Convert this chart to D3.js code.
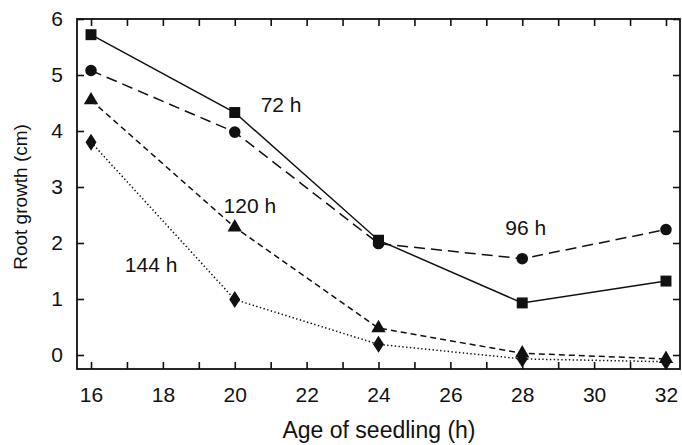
<!DOCTYPE html>
<html>
<head>
<meta charset="utf-8">
<script src="https://cdn.jsdelivr.net/npm/d3@7"></script>
<style>
  body { margin: 0; background: #fff; }
  text { font-family: "Liberation Sans", Arial, sans-serif; fill: #111; }
</style>
</head>
<body>
<div id="chart"></div>
<script>
// seedling age (h)
var ages = [16, 20, 24, 28, 32];

// root growth (cm) per treatment
var growth72 = [5.72, 4.33, 2.05, 0.93, 1.32];
var growth96 = [5.08, 3.98, 1.99, 1.72, 2.24];
var growth120 = [4.55, 2.28, 0.48, 0.03, -0.07];
var growth144 = [3.80, 0.99, 0.19, -0.07, -0.12];

var xTicks = [16, 18, 20, 22, 24, 26, 28, 30, 32];
var yTicks = [0, 1, 2, 3, 4, 5, 6];

// label anchor points (data coords)
var labels = [
    { text: '72 h', x: 20.72, y: 4.34 },
    { text: '120 h', x: 19.69, y: 2.54 },
    { text: '96 h', x: 27.53, y: 2.14 },
    { text: '144 h', x: 16.94, y: 1.48 }
];

var width = 682, height = 445;
var plotL = 77, plotR = 680, plotT = 19, plotB = 369;

var svg = d3.select('#chart').append('svg')
    .attr('width', width)
    .attr('height', height);

var xScale = d3.scaleLinear().domain([15.61, 32.39]).range([plotL, plotR]);
var yScale = d3.scaleLinear().domain([-0.25, 6]).range([plotB, plotT]);

// inward ticks on all four sides
var minorX = d3.range(16, 33, 1);

var xAxis = d3.axisBottom(xScale).tickValues(minorX).tickSize(-7)
    .tickFormat(function (d) { return xTicks.indexOf(d) >= 0 ? d : ''; });
var gx = svg.append('g').attr('transform', 'translate(0,' + plotB + ')').call(xAxis);
gx.selectAll('text').attr('dy', 0).attr('y', 33).style('font-size', '21px');

svg.append('g').attr('transform', 'translate(0,' + plotT + ')')
    .call(d3.axisTop(xScale).tickValues(minorX).tickSize(-7).tickFormat(''));

var yAxis = d3.axisLeft(yScale).tickValues(yTicks).tickSize(-7).tickFormat(d3.format('d'));
var gy = svg.append('g').attr('transform', 'translate(' + plotL + ',0)').call(yAxis);
gy.selectAll('text').attr('x', -14).style('font-size', '21px');

svg.append('g').attr('transform', 'translate(' + plotR + ',0)')
    .call(d3.axisRight(yScale).tickValues(yTicks).tickSize(-7).tickFormat(''));

svg.selectAll('.domain').remove();
svg.selectAll('.tick line').attr('stroke', '#111').attr('stroke-width', 1.6);

svg.append('rect')
    .attr('x', plotL).attr('y', plotT)
    .attr('width', plotR - plotL).attr('height', plotB - plotT)
    .attr('fill', 'none').attr('stroke', '#111').attr('stroke-width', 1.8);

// axis titles
svg.append('text')
    .attr('x', 379).attr('y', 438)
    .attr('text-anchor', 'middle')
    .style('font-size', '23px')
    .text('Age of seedling (h)');

svg.append('text')
    .attr('transform', 'translate(27,197) rotate(-90)')
    .attr('text-anchor', 'middle')
    .style('font-size', '19px')
    .text('Root growth (cm)');

var series = [
    { values: growth72, dash: null, marker: 'square' },
    { values: growth96, dash: '11,6', marker: 'circle' },
    { values: growth120, dash: '6,4', marker: 'triangle' },
    { values: growth144, dash: '1.4,2.4', marker: 'diamond' }
];

var line = d3.line()
    .x(function (d) { return xScale(d[0]); })
    .y(function (d) { return yScale(d[1]); });

var symbols = {
    square: d3.symbol().type(d3.symbolSquare).size(120),
    circle: d3.symbol().type(d3.symbolCircle).size(105),
    triangle: d3.symbol().type(d3.symbolTriangle).size(90)
};

series.forEach(function (s) {
    var pts = ages.map(function (a, i) { return [a, s.values[i]]; });

    svg.append('path')
        .datum(pts)
        .attr('d', line)
        .attr('fill', 'none')
        .attr('stroke', '#111')
        .attr('stroke-width', 1.5)
        .attr('stroke-dasharray', s.dash);

    var marks = svg.append('g').selectAll('path.mark')
        .data(pts)
        .enter()
        .append('path')
        .classed('mark', true)
        .attr('transform', function (d) {
            return 'translate(' + xScale(d[0]) + ',' + yScale(d[1]) + ')';
        })
        .attr('fill', '#111');

    if (s.marker === 'diamond') {
        marks.attr('d', 'M0,-8.5L5.5,0L0,8.5L-5.5,0Z');
    } else {
        marks.attr('d', symbols[s.marker]());
    }
});

svg.append('g').selectAll('text.lbl')
    .data(labels)
    .enter()
    .append('text')
    .classed('lbl', true)
    .attr('x', function (d) { return xScale(d.x); })
    .attr('y', function (d) { return yScale(d.y); })
    .style('font-size', '21px')
    .text(function (d) { return d.text; });
</script>
</body>
</html>
